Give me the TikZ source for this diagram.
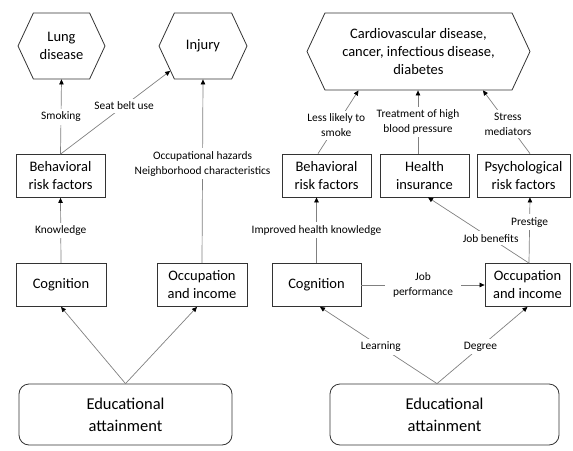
\documentclass[tikz,border=0pt]{standalone}
\usepackage{fontspec}
\setmainfont{Carlito}
\usetikzlibrary{arrows.meta,shapes.symbols}

\tikzset{
  box/.style={draw=black!80, line width=0.8pt, rectangle, minimum height=43, align=center, inner sep=1pt, font=\fontsize{14.5}{18}\selectfont},
  hexa/.style={draw=black!80, line width=0.8pt, signal, signal to=west and east, signal pointer angle=130, align=center, inner sep=1pt, font=\fontsize{14.5}{18}\selectfont},
  edu/.style={draw=black!80, line width=0.8pt, rounded corners=10pt, minimum height=61, align=center, font=\fontsize{16.5}{22}\selectfont},
  lbl/.style={fill=white, align=center, inner sep=3pt, font=\fontsize{11.4}{15}\selectfont},
  link/.style={draw=black!50, line width=0.7pt, -{Triangle[color=black, length=5pt, width=4.5pt]}}
}

\begin{document}
\begin{tikzpicture}[x=1pt, y=-1pt]
  \useasboundingbox (0,0) rectangle (573,450);

  % outcomes
  \node[hexa, minimum width=87, minimum height=66] (lung) at (61.5,46) {Lung\\disease};
  \node[hexa, minimum width=88, minimum height=66] (injury) at (203,46) {Injury};
  \node[hexa, minimum width=223, minimum height=77] (cvd) at (418.5,51.5) {Cardiovascular disease,\\cancer, infectious disease,\\diabetes};

  % left panel
  \node[box, minimum width=89] (lbeh) at (60.5,176) {Behavioral\\risk factors};
  \node[box, minimum width=90] (lcog) at (61,285) {Cognition};
  \node[box, minimum width=90] (locc) at (202,285) {Occupation\\and income};
  \node[edu, minimum width=213] (ledu) at (125.5,414.5) {Educational\\attainment};

  % right panel
  \node[box, minimum width=89] (rbeh) at (326.5,175.5) {Behavioral\\risk factors};
  \node[box, minimum width=89] (hins) at (424.5,175.5) {Health\\insurance};
  \node[box, minimum width=93] (psy) at (523.5,175.5) {Psychological\\risk factors};
  \node[box, minimum width=89] (rcog) at (316.5,285) {Cognition};
  \node[box, minimum width=85] (rocc) at (527.5,285) {Occupation\\and income};
  \node[edu, minimum width=229] (redu) at (444.5,414.5) {Educational\\attainment};

  % left links
  \draw[link] (lbeh.north) -- node[lbl] {Smoking} (lung.south);
  \draw[link] (lbeh.north) -- node[lbl, pos=0.58] {Seat belt use} (injury);
  \draw[link] (locc.north) -- node[lbl, pos=0.54] {Occupational hazards\\Neighborhood characteristics} (injury.south);
  \draw[link] (lcog.north) -- node[lbl] {Knowledge} (lbeh.south);
  \draw[link] (ledu.north) -- (lcog.south);
  \draw[link] (ledu.north) -- ([xshift=-5]locc.south);

  % right links
  \draw[link] ([xshift=-8.5]rbeh.north) -- node[lbl, pos=0.45] {Less likely to\\smoke} ([xshift=-60]cvd.south);
  \draw[link] ([xshift=-6.5]hins.north) -- node[lbl] {Treatment of high\\blood pressure} ([xshift=-0.5]cvd.south);
  \draw[link] ([xshift=6.5]psy.north) -- node[lbl, pos=0.47] {Stress\\mediators} ([xshift=64.5]cvd.south);
  \draw[link] (rcog.north) -- node[lbl] {Improved health knowledge} ([xshift=-10]rbeh.south);
  \draw[link] (rcog.east) -- node[lbl, inner xsep=8pt] {Job\\performance} (rocc.west);
  \draw[link] ([xshift=1.5]rocc.north) -- node[lbl, pos=0.38] {Job benefits} ([xshift=3.5]hins.south);
  \draw[link] ([xshift=1.5]rocc.north) -- node[lbl, pos=0.62] {Prestige} ([xshift=6.5]psy.south);
  \draw[link] ([xshift=-7.5]redu.north) -- node[lbl, pos=0.48] {Learning} ([xshift=3.5]rcog.south);
  \draw[link] ([xshift=-7.5]redu.north) -- node[lbl, pos=0.48] {Degree} (rocc.south);
\end{tikzpicture}
\end{document}
